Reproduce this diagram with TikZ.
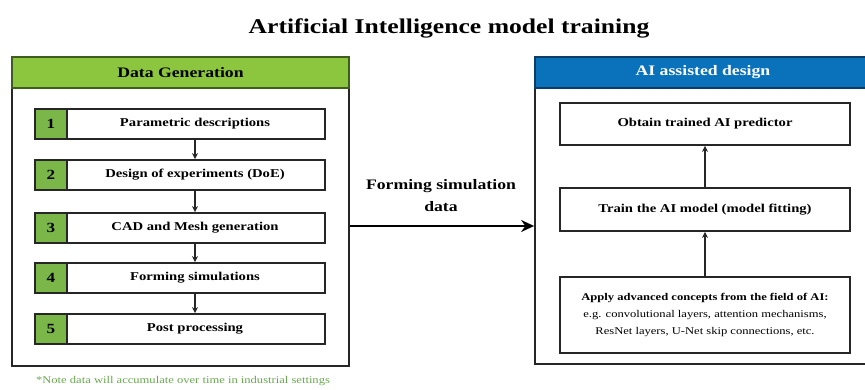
\documentclass[tikz,border=0pt]{standalone}
\usepackage{fontspec}
\setmainfont{Liberation Serif}[FakeStretch=1.22]
\usetikzlibrary{arrows.meta,calc}
\definecolor{hdgreen}{HTML}{8CC63F}
\definecolor{numgreen}{HTML}{7AB648}
\definecolor{bordgreen}{HTML}{3E5E1E}
\definecolor{hdblue}{HTML}{0A72BA}
\definecolor{bordblue}{HTML}{0B3D66}
\definecolor{notegreen}{HTML}{6AA84F}
\definecolor{lineg}{HTML}{262626}
\tikzset{
  outerbox/.style={draw=lineg,line width=1.8pt,fill=white},
  stepbox/.style={draw=lineg,line width=1.8pt,fill=white,minimum height=30pt,inner sep=0pt},
  numbox/.style={draw=lineg,line width=1.8pt,fill=numgreen,minimum width=32pt,minimum height=30pt,inner sep=0pt,font=\bfseries\fontsize{14}{14}\selectfont},
  steptext/.style={font=\bfseries\fontsize{12}{13}\selectfont},
  aibox/.style={draw=lineg,line width=1.8pt,fill=white,minimum width=290pt,inner sep=0pt,align=center,font=\bfseries\fontsize{12}{13}\selectfont},
  arr/.style={-{Stealth[length=6pt,width=6pt]},line width=1.6pt,draw=lineg},
  bigarr/.style={-{Stealth[length=13pt,width=12pt]},line width=1.6pt,draw=black},
}
\begin{document}
\begin{tikzpicture}[x=1pt,y=-1pt]
\clip (0,0) rectangle (865,389);
\fill[white] (0,0) rectangle (865,389);
\node[font=\bfseries\fontsize{21}{22}\selectfont] (title) at (449,28) {Artificial Intelligence model training};

% Left panel
\node[outerbox,minimum width=337pt,minimum height=309pt,inner sep=0pt] (lo) at (180.5,211.5) {};
\node[draw=bordgreen,line width=1.8pt,fill=hdgreen,minimum width=337pt,minimum height=31pt,inner sep=0pt,font=\bfseries\fontsize{14.5}{15}\selectfont] (lh) at (180.5,72.5) {Data Generation};

\foreach \i/\y/\t in {1/124/Parametric descriptions,2/175/Design of experiments (DoE),3/228/CAD and Mesh generation,4/278/Forming simulations,5/329/Post processing}{
  \node[stepbox,minimum width=290pt] (s\i) at (180,\y) {};
  \node[steptext] (st\i) at (195,\y) {\t};
  \node[numbox] (n\i) at (51,\y) {\i};
}
\foreach \a/\b in {1/2,2/3,3/4,4/5}{
  \draw[arr] (s\a.south -| 195,0) -- (s\b.north -| 195,0);
}
\node[text=notegreen,font=\fontsize{10.3}{11}\selectfont] (note) at (183,381) {*Note data will accumulate over time in industrial settings};

% Right panel
\node[outerbox,minimum width=340pt,minimum height=307pt,inner sep=0pt] (ro) at (705,210.5) {};
\node[draw=bordblue,line width=1.8pt,fill=hdblue,text=white,minimum width=340pt,minimum height=31pt,inner sep=0pt,font=\bfseries\fontsize{14.5}{15}\selectfont] (rh) at (705,72.5) {\hspace*{-4pt}AI assisted design};
\node[aibox,minimum height=42pt] (b1) at (705,124) {Obtain trained AI predictor};
\node[aibox,minimum height=43pt] (b2) at (705,209.5) {Train the AI model (model fitting)};
\node[aibox,minimum height=76pt,font=\fontsize{10.3}{17}\selectfont] (b3) at (705,315) {\textbf{Apply advanced concepts from the field of AI:}\\e.g. convolutional layers, attention mechanisms,\\ResNet layers, U-Net skip connections, etc.};
\draw[arr] (b3.north) -- (b2.south);
\draw[arr] (b2.north) -- (b1.south);

% Middle connector
\coordinate (mid) at (440,226);
\draw[bigarr] (lo.east |- mid) -- (ro.west |- mid);
\node[align=center,font=\bfseries\fontsize{14.5}{22}\selectfont] (ml) at (441,196) {Forming simulation\\data};
\end{tikzpicture}
\end{document}
